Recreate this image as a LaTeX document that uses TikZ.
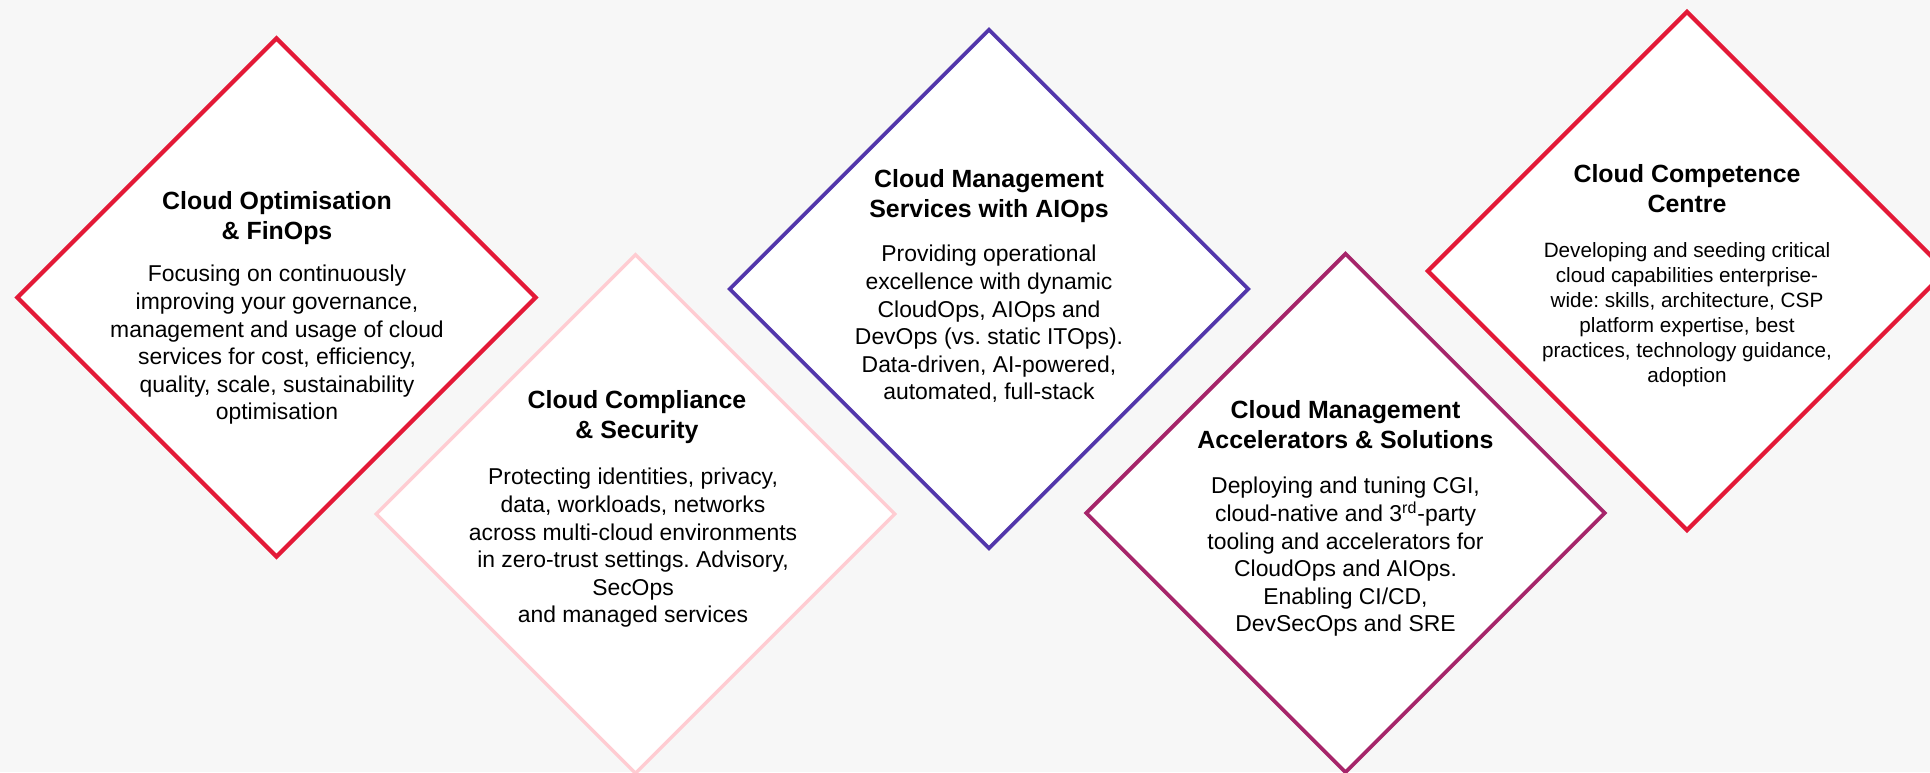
\documentclass[tikz,border=0pt]{standalone}
\usepackage{fontspec}
\setmainfont{Liberation Sans}
\usetikzlibrary{shapes.geometric}
\frenchspacing

\definecolor{cgired}{HTML}{E31937}
\definecolor{cgipink}{HTML}{FFCCD2}
\definecolor{cgipurple}{HTML}{5236AB}
\definecolor{cgimagenta}{HTML}{A6256A}
\definecolor{pagegrey}{HTML}{F7F7F7}

\tikzset{
  tile/.style={diamond, draw, fill=white, line width=2.1pt, minimum width=260pt, minimum height=260pt, inner sep=0pt},
  head/.style={align=center, inner sep=0pt, font=\fontsize{12.45}{15}\selectfont\bfseries},
  blurb/.style={align=center, inner sep=0pt, font=\fontsize{11.45}{13.8}\selectfont},
}

\begin{document}
\begin{tikzpicture}[x=0.5pt, y=-0.5pt]
    \useasboundingbox (0,0) rectangle (1930,772);
    \fill[pagegrey] (0,0) rectangle (1930,772);
    \clip (0,0) rectangle (1930,772);

    \node[tile, draw=cgired] (optim) at (276.5,297.5) {};
    \node[head] (optimhead) at (277,218) {Cloud Optimisation\\ \& FinOps};
    \node[blurb] (optimtext) at (277,345) {Focusing on continuously\\ improving your governance,\\ management and usage of cloud\\ services for cost, efficiency,\\ quality, scale, sustainability\\ optimisation};

    \node[tile, draw=cgipink, line width=1.7pt] (secure) at (635.5,514) {};
    \node[head] (securehead) at (637,417) {Cloud Compliance\\ \& Security};
    \node[blurb] (securetext) at (633,548) {Protecting identities, privacy,\\ data, workloads, networks\\ across multi-cloud environments\\ in zero-trust settings. Advisory,\\ SecOps\\ and managed services};

    \node[tile, draw=cgipurple, line width=1.8pt] (aiops) at (989,289) {};
    \node[head] (aiopshead) at (989,196) {Cloud Management\\ Services with AIOps};
    \node[blurb] (aiopstext) at (989,324) {Providing operational\\ excellence with dynamic\\ CloudOps, AIOps and\\ DevOps (vs. static ITOps).\\ Data-driven, AI-powered,\\ automated, full-stack};

    \node[tile, draw=cgimagenta, line width=1.9pt] (accel) at (1345.5,513) {};
    \node[head] (accelhead) at (1345.5,424.5) {Cloud Management\\ Accelerators \& Solutions};
    \node[blurb] (acceltext) at (1345.5,557) {Deploying and tuning CGI,\\ cloud-native and 3\textsuperscript{rd}-party\\ tooling and accelerators for\\ CloudOps and AIOps.\\ Enabling CI/CD,\\ DevSecOps and SRE};

    \node[tile, draw=cgired] (centre) at (1687,271) {};
    \node[head] (centrehead) at (1687,189) {Cloud Competence\\ Centre};
    \node[blurb, font=\fontsize{10.35}{12.5}\selectfont] (centretext) at (1687,314.5) {Developing and seeding critical\\ cloud capabilities enterprise-\\ wide: skills, architecture, CSP\\ platform expertise, best\\ practices, technology guidance,\\ adoption};
\end{tikzpicture}
\end{document}
